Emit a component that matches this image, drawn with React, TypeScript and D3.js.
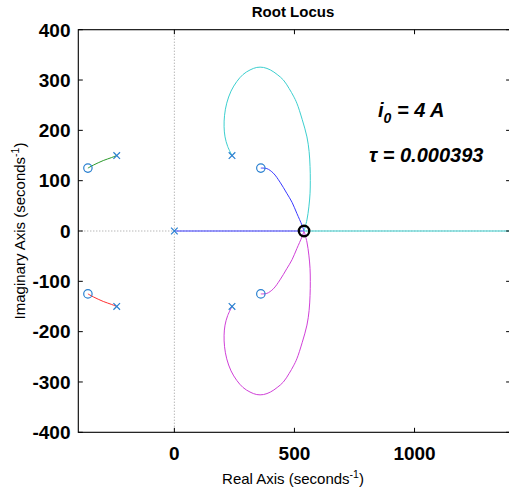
import * as d3 from 'd3';

type Pt = [number, number];

const xTicks = [0, 500, 1000];
const yTicks = [-400, -300, -200, -100, 0, 100, 200, 300, 400];

const poles: Pt[] = [[-240, 150], [-240, -150], [0, 0], [240, 150], [240, -150]];
const zeros: Pt[] = [[-360, 125], [-360, -125], [360, 125], [360, -125]];
const closedLoop: Pt[] = [[540, 0]];

const greenBranch: Pt[] = [[-240, 150], [-261, 146], [-296, 140], [-337, 131], [-360, 125]];
const redBranch: Pt[] = [[-240, -150], [-261, -146], [-296, -140], [-337, -131], [-360, -125]];

const cyanLoop: Pt[] = [
  [240, 150], [222, 168], [211, 187], [207, 207], [209, 230], [218, 254], [236, 278], [260, 297],
  [286, 311], [315, 320], [343, 325], [371, 325], [400, 320], [428, 311], [454, 300], [478, 283],
  [496, 268], [510, 254], [532, 222], [552, 187], [561, 158], [565, 128], [566, 100], [565, 75],
  [560, 48], [552, 22], [540, 0]
];
const cyanAxis: Pt[] = [[540, 0], [1400, 0]];

const magentaLoop: Pt[] = [
  [240, -150], [222, -168], [211, -187], [207, -207], [209, -230], [218, -254], [236, -278], [260, -297],
  [286, -311], [315, -320], [343, -325], [371, -325], [400, -320], [428, -311], [454, -300], [478, -283],
  [496, -268], [510, -254], [532, -222], [552, -187], [561, -158], [565, -128], [566, -100], [565, -75],
  [560, -48], [552, -22], [540, 0]
];
const magentaZero: Pt[] = [[540, 0], [531, -12], [510, -35], [490, -57], [468, -75], [440, -97], [412, -115], [385, -124], [360, -125]];

const blueAxis: Pt[] = [[0, 0], [540, 0]];
const blueZero: Pt[] = [[540, 0], [531, 12], [510, 35], [490, 57], [468, 75], [440, 97], [412, 115], [385, 124], [360, 125]];

const W = 509;
const H = 493;
const left = 78.3, right = 510.6, top = 29.7, bottom = 432.3;

export default function App() {
  const x = d3.scaleLinear().domain([-400, 1400]).range([left, right]);
  const y = d3.scaleLinear().domain([-400, 400]).range([bottom, top]);
  const line = d3.line<Pt>().x(d => x(d[0])).y(d => y(d[1])).curve(d3.curveCatmullRom);
  const font = 'Arial, "Liberation Sans", sans-serif';

  const branches: [Pt[], string][] = [
    [greenBranch, '#2a9a2a'],
    [redBranch, '#ff3030'],
    [blueAxis, '#3a3aff'],
    [blueZero, '#3a3aff'],
    [magentaLoop, '#d040d8'],
    [magentaZero, '#d040d8'],
    [cyanLoop, '#3ccfcf'],
    [cyanAxis, '#3ccfcf'],
  ];

  return (
    <svg width={W} height={H} style={{ position: 'absolute', left: 0, top: 0, background: '#fff' }} fontFamily={font}>
      <defs>
        <clipPath id="plot">
          <rect x={left} y={top} width={right - left} height={bottom - top} />
        </clipPath>
      </defs>
      <rect x={0} y={0} width={W} height={H} fill="#fff" />

      {/* zero lines */}
      <line x1={x(0)} x2={x(0)} y1={top} y2={bottom} stroke="#999" strokeDasharray="1,2" />
      <line x1={left} x2={right} y1={y(0)} y2={y(0)} stroke="#999" strokeDasharray="1,2" />

      <g clipPath="url(#plot)">
        {branches.map(([pts, c], i) => (
          <path key={i} d={line(pts) ?? ''} fill="none" stroke={c} strokeWidth={1} />
        ))}
        {poles.map((p, i) => (
          <path key={'p' + i}
            d={`M${x(p[0]) - 3.3},${y(p[1]) - 3.3}L${x(p[0]) + 3.3},${y(p[1]) + 3.3}M${x(p[0]) - 3.3},${y(p[1]) + 3.3}L${x(p[0]) + 3.3},${y(p[1]) - 3.3}`}
            stroke="#2a80d0" strokeWidth={1.2} fill="none" />
        ))}
        {zeros.map((p, i) => (
          <circle key={'z' + i} cx={x(p[0])} cy={y(p[1])} r={4.2} fill="none" stroke="#2a80d0" strokeWidth={1.2} />
        ))}
        {closedLoop.map((p, i) => (
          <circle key={'c' + i} cx={x(p[0])} cy={y(p[1])} r={5.2} fill="none" stroke="#000" strokeWidth={2.4} />
        ))}
      </g>

      {/* frame */}
      <rect x={left} y={top} width={right - left} height={bottom - top} fill="none" stroke="#000" strokeWidth={1.1} />
      {xTicks.map(t => (
        <g key={'xt' + t}>
          <line x1={x(t)} x2={x(t)} y1={bottom} y2={bottom - 4.5} stroke="#000" />
          <line x1={x(t)} x2={x(t)} y1={top} y2={top + 4.5} stroke="#000" />
          <text x={x(t)} y={460} textAnchor="middle" fontSize={19} fontWeight="bold">{t}</text>
        </g>
      ))}
      {yTicks.map(t => (
        <g key={'yt' + t}>
          <line x1={left} x2={left + 4.5} y1={y(t)} y2={y(t)} stroke="#000" />
          <line x1={right} x2={right - 4.5} y1={y(t)} y2={y(t)} stroke="#000" />
          <text x={70.5} y={y(t) + 6.8} textAnchor="end" fontSize={19} fontWeight="bold">{t}</text>
        </g>
      ))}

      <text x={293} y={17.3} textAnchor="middle" fontSize={15} fontWeight="bold">Root Locus</text>
      <text x={293} y={484} textAnchor="middle" fontSize={15}>
        Real Axis (seconds<tspan dy={-6} fontSize={10.5}>-1</tspan><tspan dy={6}>)</tspan>
      </text>
      <text transform={`translate(25,${(top + bottom) / 2}) rotate(-90)`} textAnchor="middle" fontSize={15}>
        Imaginary Axis (seconds<tspan dy={-6} fontSize={10.5}>-1</tspan><tspan dy={6}>)</tspan>
      </text>

      <text x={378} y={117} fontSize={20} fontWeight="bold" fontStyle="italic">
        i<tspan dy={6} fontSize={14}>0</tspan><tspan dy={-6}> = 4 A</tspan>
      </text>
      <text x={369} y={162} fontSize={20} fontWeight="bold" fontStyle="italic">τ = 0.000393</text>
    </svg>
  );
}
